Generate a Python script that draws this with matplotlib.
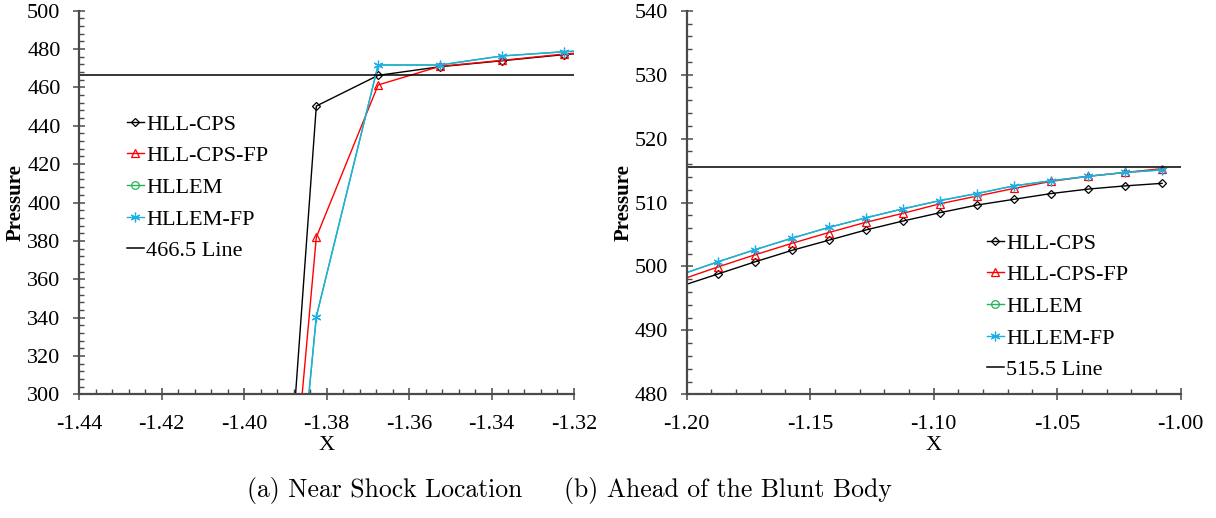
import matplotlib as mpl
mpl.use('Agg')
import matplotlib.pyplot as plt
import matplotlib.ticker as tick
from matplotlib.lines import Line2D

#------------------------------------------------------------------------------------------------------------------------------------------------
# data
vecLabel = ['HLL-CPS', 'HLL-CPS-FP', 'HLLEM', 'HLLEM-FP']

# (a) near shock location
shockX        = [-1.3975, -1.3825, -1.3675, -1.3525, -1.3375, -1.3225, -1.3075]
shockHllCps   = [2.5, 450.3, 466.3, 470.8, 473.9, 477.1, 479.6]
shockHllCpsFp = [24.0, 381.9, 461.3, 471.0, 474.1, 477.4, 479.9]
shockHllem    = [3.5, 340.5, 471.7, 471.7, 476.4, 478.6, 480.3]
shockHllemFp  = [3.5, 340.5, 471.7, 471.7, 476.4, 478.6, 480.3]
shockRef      = 466.5

# (b) ahead of the blunt body
bodyX        = [-1.2025, -1.1875, -1.1725, -1.1575, -1.1425, -1.1275, -1.1125,
                -1.0975, -1.0825, -1.0675, -1.0525, -1.0375, -1.0225, -1.0075]
bodyHllCps   = [496.9, 498.8, 500.7, 502.5, 504.1, 505.7, 507.1, 508.4, 509.6, 510.5, 511.4, 512.1, 512.6, 513.0]
bodyHllCpsFp = [497.9, 499.9, 501.8, 503.6, 505.3, 506.9, 508.3, 509.8, 511.0, 512.2, 513.3, 514.1, 514.7, 515.3]
bodyHllem    = [498.7, 500.7, 502.6, 504.4, 506.1, 507.6, 509.0, 510.3, 511.4, 512.6, 513.4, 514.1, 514.7, 515.1]
bodyHllemFp  = [498.7, 500.7, 502.6, 504.4, 506.1, 507.6, 509.0, 510.3, 511.4, 512.6, 513.4, 514.1, 514.7, 515.1]
bodyRef      = 515.5

#------------------------------------------------------------------------------------------------------------------------------------------------
plt.rcParams['font.family'] = ['Liberation Serif', 'DejaVu Serif']
plt.rcParams['axes.unicode_minus'] = False

vColor  = ['black', 'red', '#21b557', '#1eaee6']
vMarker = ['D', '^', 'o', (6, 2, 0)]
vMSize  = [4.0, 6.0, 5.5, 7.0]
spineColor = '#4a4a4a'

def vvec2graph_base(ax, vvecY, vecX, refY, vecXlim, vecYlim, xMajor, xMinor, yMajor, yMinor, legendXY):
    handles = []
    for i in range(len(vecLabel)):
        style = dict(color=vColor[i], linewidth=1.0, marker=vMarker[i], markersize=vMSize[i],
                     markerfacecolor='none', markeredgecolor=vColor[i], markeredgewidth=0.9)
        if vecLabel[i] == 'HLLEM':
            # HLLEM lies under HLLEM-FP: line only on the axes, marker kept for the legend
            ax.plot(vecX, vvecY[i], color=vColor[i], linewidth=1.0)
            handles.append(Line2D([], [], label=vecLabel[i], **style))
        else:
            handles += ax.plot(vecX, vvecY[i], label=vecLabel[i], **style)
    handles.append(ax.axhline(refY, color='black', linewidth=1.1, label='%.1f Line' % refY))

    ax.set_xlim(vecXlim[0], vecXlim[1])
    ax.set_ylim(vecYlim[0], vecYlim[1])
    ax.xaxis.set_major_locator(tick.MultipleLocator(xMajor))
    ax.xaxis.set_minor_locator(tick.MultipleLocator(xMinor))
    ax.yaxis.set_major_locator(tick.MultipleLocator(yMajor))
    ax.yaxis.set_minor_locator(tick.MultipleLocator(yMinor))
    ax.xaxis.set_major_formatter(tick.FormatStrFormatter('%.2f'))
    ax.yaxis.set_major_formatter(tick.FormatStrFormatter('%d'))

    for s in ['top', 'right']:
        ax.spines[s].set_visible(False)
    for s in ['left', 'bottom']:
        ax.spines[s].set_color(spineColor)
        ax.spines[s].set_linewidth(1.6)

    ax.tick_params(which='major', direction='inout', length=8, width=1.1, color=spineColor, labelsize=16)
    ax.tick_params(which='minor', direction='in', length=3.6, width=1.0, color=spineColor)
    ax.tick_params(axis='x', which='major', pad=11)
    ax.tick_params(axis='y', which='major', pad=9.5)

    ax.set_xlabel('X', fontsize=16, labelpad=1)
    ax.set_ylabel('Pressure', fontsize=15, fontweight='bold', labelpad=1)

    ax.legend(handles=handles, loc='upper left', bbox_to_anchor=legendXY, bbox_transform=fig.transFigure, frameon=False,
              fontsize=16, handlelength=0.75, handletextpad=0.1, labelspacing=0.5, borderpad=0, borderaxespad=0)
    return

#------------------------------------------------------------------------------------------------------------------------------------------------
fig = plt.figure(figsize=(12.16, 5.18), dpi=100)
ax1 = fig.add_axes([0.0652, 0.2388, 0.4068, 0.7405])
ax2 = fig.add_axes([0.5647, 0.2388, 0.4062, 0.7405])

vvec2graph_base(ax1, [shockHllCps, shockHllCpsFp, shockHllem, shockHllemFp], shockX, shockRef,
                [-1.44, -1.32], [300, 500], 0.02, 0.004, 20, 4, (127/1216, 1-114/518))
vvec2graph_base(ax2, [bodyHllCps, bodyHllCpsFp, bodyHllem, bodyHllemFp], bodyX, bodyRef,
                [-1.20, -1.00], [480, 540], 0.05, 0.01, 10, 2, (987/1216, 1-233/518))

fig.text(385/1216, 1-490/518, '(a) Near Shock Location', family='cmr10', fontsize=18.5, ha='center', va='center')
fig.text(728/1216, 1-490/518, '(b) Ahead of the Blunt Body', family='cmr10', fontsize=18.5, ha='center', va='center')

plt.savefig('out.png', dpi=100)
